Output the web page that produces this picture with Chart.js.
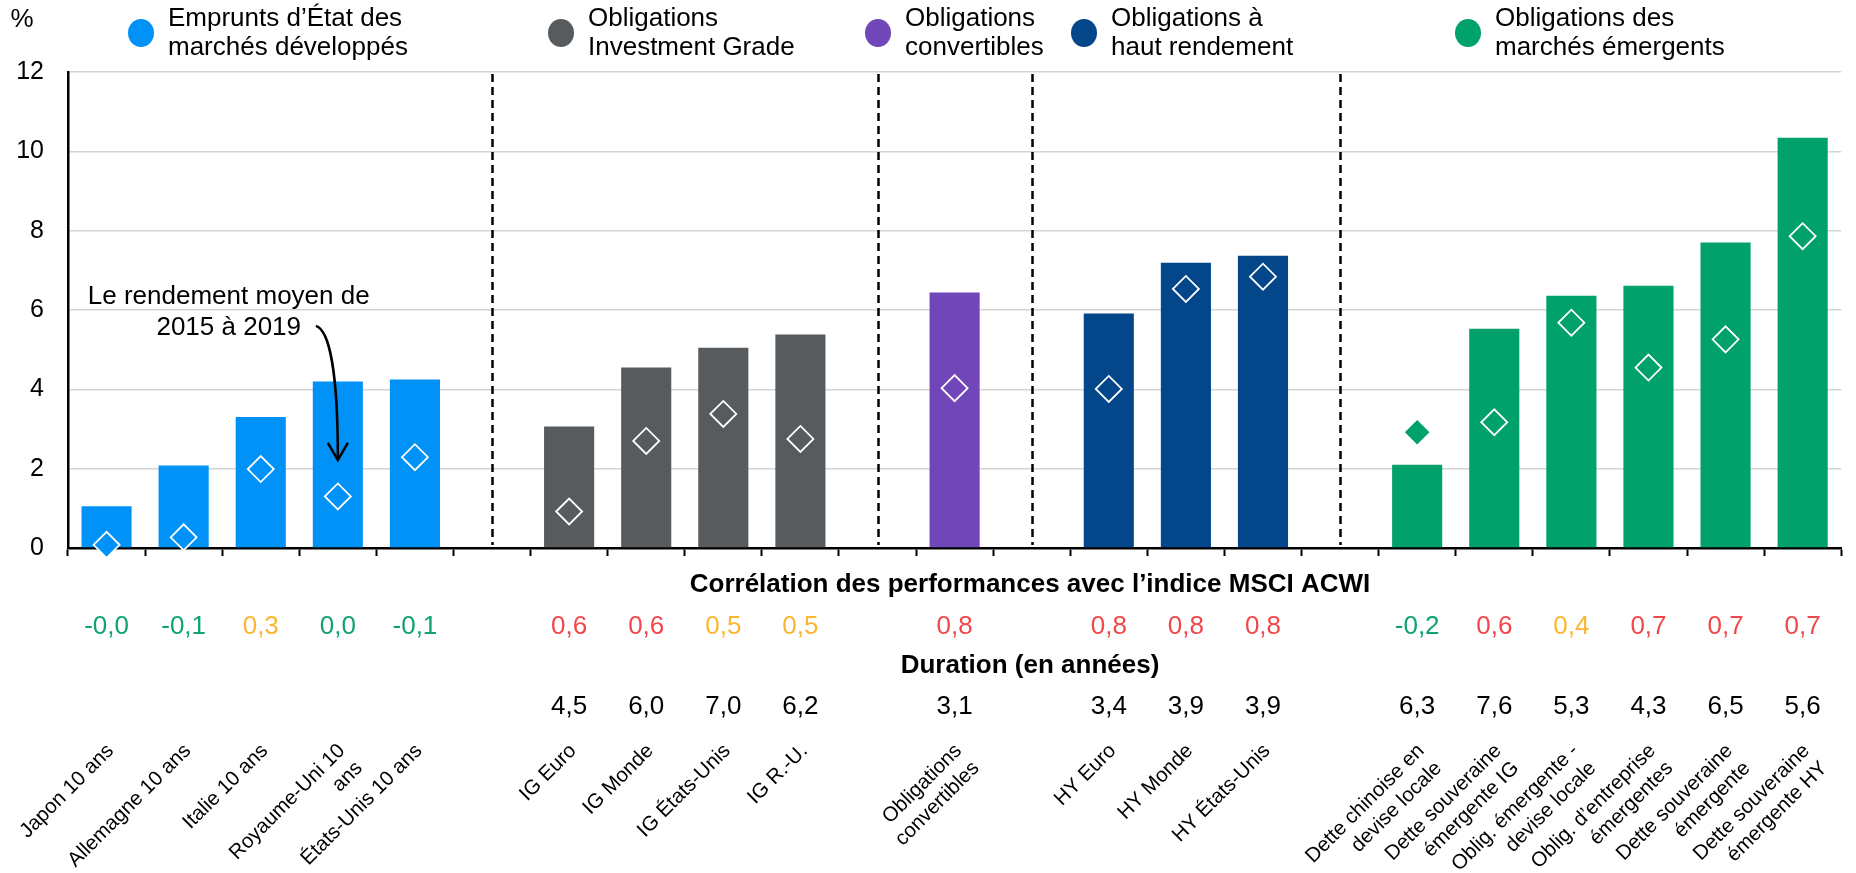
<!DOCTYPE html>
<html>
<head>
<meta charset="utf-8">
<script src="https://cdn.jsdelivr.net/npm/chart.js@4.4.1/dist/chart.umd.min.js"></script>
<style>
html,body{margin:0;padding:0;background:#fff;}
#wrap{width:1856px;height:873px;position:relative;}
</style>
</head>
<body>
<div id="wrap"><canvas id="c"></canvas></div>
<script>
// ---------- DATA ----------
const categories = [
  'Japon 10 ans', 'Allemagne 10 ans', 'Italie 10 ans', ['Royaume-Uni 10', 'ans'], 'États-Unis 10 ans',
  '',
  'IG Euro', 'IG Monde', 'IG États-Unis', 'IG R.-U.',
  '',
  ['Obligations', 'convertibles'],
  '',
  'HY Euro', 'HY Monde', 'HY États-Unis',
  '',
  ['Dette chinoise en', 'devise locale'], ['Dette souveraine', 'émergente IG'], ['Oblig. émergente -', 'devise locale'],
  ['Oblig. d’entreprise', 'émergentes'], ['Dette souveraine', 'émergente'], ['Dette souveraine', 'émergente HY']
];
const currentYield = [1.05, 2.08, 3.3, 4.2, 4.25, null, 3.06, 4.55, 5.05, 5.38, null, 6.44, null, 5.91, 7.19, 7.37, null, 2.1, 5.53, 6.36, 6.61, 7.7, 10.34];
const avgYield2015to2019 = [0.08, 0.27, 1.99, 1.3, 2.29, null, 0.92, 2.7, 3.38, 2.75, null, 4.03, null, 4.01, 6.53, 6.84, null, 2.92, 3.17, 5.68, 4.55, 5.26, 7.86];
const correlation = ['-0,0', '-0,1', '0,3', '0,0', '-0,1', null, '0,6', '0,6', '0,5', '0,5', null, '0,8', null, '0,8', '0,8', '0,8', null, '-0,2', '0,6', '0,4', '0,7', '0,7', '0,7'];
const duration = [null, null, null, null, null, null, 4.5, 6.0, 7.0, 6.2, null, 3.1, null, 3.4, 3.9, 3.9, null, 6.3, 7.6, 5.3, 4.3, 6.5, 5.6];
const categoryGroup = [0, 0, 0, 0, 0, null, 1, 1, 1, 1, null, 2, null, 3, 3, 3, null, 4, 4, 4, 4, 4, 4];
const groupNames = [
  ['Emprunts d’État des', 'marchés développés'],
  ['Obligations', 'Investment Grade'],
  ['Obligations', 'convertibles'],
  ['Obligations à', 'haut rendement'],
  ['Obligations des', 'marchés émergents']
];
const separatorIndices = [5, 10, 12, 16];
const yTickValues = [0, 2, 4, 6, 8, 10, 12];
const rowHeaders = ['Corrélation des performances avec l’indice MSCI ACWI', 'Duration (en années)'];
const annotationLines = ['Le rendement moyen de', '2015 à 2019'];
const unitLabel = '%';

// ---------- STYLE ----------
const FONT = '"Liberation Sans", Arial, Helvetica, sans-serif';
const groupColors = ['#0092f6', '#585b5e', '#7046b8', '#03468a', '#00a16b'];
const corrColors = {low: '#10a36f', mid: '#fbb631', high: '#f0484a'};
const legendX = [141, 561, 878, 1084, 1468];

function catColor(i) { const g = categoryGroup[i]; return g === null ? 'rgba(0,0,0,0)' : groupColors[g]; }
function isAbove(i) { return avgYield2015to2019[i] !== null && currentYield[i] !== null && avgYield2015to2019[i] > currentYield[i]; }

const extras = {
  id: 'extras',
  beforeDatasetsDraw(chart) {
    const {ctx, scales: {x, y}} = chart;
    ctx.save();
    ctx.strokeStyle = '#000';
    ctx.lineWidth = 2.5;
    ctx.setLineDash([8, 5]);
    separatorIndices.forEach(i => {
      const px = Math.round(x.getPixelForValue(i)) + 0.5;
      ctx.beginPath();
      ctx.moveTo(px, y.getPixelForValue(12) + 2);
      ctx.lineTo(px, y.getPixelForValue(0) - 3);
      ctx.stroke();
    });
    ctx.restore();
  },
  afterDraw(chart) {
    const {ctx, scales: {x, y}} = chart;
    ctx.save();
    ctx.textBaseline = 'middle';

    // unit
    ctx.fillStyle = '#000';
    ctx.font = `26px ${FONT}`;
    ctx.textAlign = 'center';
    ctx.fillText(unitLabel, 22, 20);

    // legend
    groupNames.forEach((lines, g) => {
      const cx = legendX[g];
      ctx.fillStyle = groupColors[g];
      ctx.beginPath();
      ctx.ellipse(cx, 33, 13, 14, 0, 0, Math.PI * 2);
      ctx.fill();
      ctx.fillStyle = '#000';
      ctx.textAlign = 'left';
      ctx.font = `26px ${FONT}`;
      lines.forEach((t, k) => ctx.fillText(t, cx + 27, 19 + k * 29));
    });

    // headers
    ctx.font = `bold 26px ${FONT}`;
    ctx.textAlign = 'center';
    ctx.fillStyle = '#000';
    ctx.fillText(rowHeaders[0], 1030, 585);
    ctx.fillText(rowHeaders[1], 1030, 666);

    // correlation values
    ctx.font = `26px ${FONT}`;
    correlation.forEach((s, i) => {
      if (s === null) return;
      const v = parseFloat(s.replace(',', '.'));
      ctx.fillStyle = v >= 0.55 ? corrColors.high : (v >= 0.25 ? corrColors.mid : corrColors.low);
      ctx.fillText(s, x.getPixelForValue(i), 627);
    });
    // duration values
    ctx.fillStyle = '#000';
    duration.forEach((d, i) => {
      if (d === null) return;
      ctx.fillText(d.toFixed(1).replace('.', ','), x.getPixelForValue(i), 707);
    });

    // annotation
    const ax = x.getPixelForValue(2) - 32;
    ctx.fillText(annotationLines[0], ax, y.getPixelForValue(6.32));
    ctx.fillText(annotationLines[1], ax, y.getPixelForValue(5.55));
    const tipX = x.getPixelForValue(3);
    const tipY = y.getPixelForValue(2.22);
    const sx = tipX - 22, sy = y.getPixelForValue(5.6);
    ctx.strokeStyle = '#000';
    ctx.lineWidth = 2.5;
    ctx.beginPath();
    ctx.moveTo(sx, sy);
    ctx.bezierCurveTo(sx + 14, sy + 4, tipX, sy + 50, tipX, tipY - 2);
    ctx.stroke();
    ctx.beginPath();
    ctx.moveTo(tipX - 10, tipY - 17);
    ctx.lineTo(tipX, tipY);
    ctx.lineTo(tipX + 10, tipY - 17);
    ctx.stroke();
    ctx.restore();
  }
};

new Chart(document.getElementById('c'), {
  data: {
    labels: categories,
    datasets: [
      {
        type: 'line',
        label: 'Rendement moyen 2015-2019',
        data: avgYield2015to2019,
        showLine: false,
        pointStyle: 'rectRot',
        pointRadius: c => isAbove(c.dataIndex) ? 11 : 13,
        pointHoverRadius: c => isAbove(c.dataIndex) ? 11 : 13,
        pointBorderWidth: 1.8,
        pointBorderColor: c => isAbove(c.dataIndex) ? catColor(c.dataIndex) : '#ffffff',
        pointBackgroundColor: c => catColor(c.dataIndex),
        clip: false,
        order: 1
      },
      {
        type: 'bar',
        label: 'Rendement actuel',
        data: currentYield,
        backgroundColor: c => catColor(c.dataIndex),
        categoryPercentage: 1,
        barPercentage: 0.65,
        order: 2
      }
    ]
  },
  options: {
    responsive: true,
    maintainAspectRatio: false,
    animation: false,
    devicePixelRatio: 1,
    layout: {padding: {top: 72, right: 14, left: 0, bottom: 0}},
    plugins: {legend: {display: false}, tooltip: {enabled: false}},
    events: [],
    scales: {
      x: {
        type: 'category',
        offset: true,
        border: {display: true, color: '#000', width: 2.5},
        grid: {display: true, offset: true, drawOnChartArea: false, drawTicks: true, tickLength: 8, tickColor: '#000', tickWidth: 2},
        ticks: {
          autoSkip: false, minRotation: 45, maxRotation: 45, padding: 183, labelOffset: 4,
          color: '#000', font: {family: FONT, size: 20.5}
        },
        afterFit: s => { s.height = 325; s.paddingLeft = 0; s.paddingRight = 0; }
      },
      y: {
        min: 0, max: 12,
        afterBuildTicks: s => { s.ticks = yTickValues.map(v => ({value: v})); },
        border: {display: true, color: '#000', width: 2.5},
        grid: {color: '#d4d4d4', lineWidth: 1.5, drawTicks: false},
        ticks: {padding: 24, color: '#000', font: {family: FONT, size: 25}},
        afterFit: s => { s.width = 68; s.paddingTop = 0; s.paddingBottom = 0; }
      }
    }
  },
  plugins: [extras]
});
</script>
</body>
</html>
